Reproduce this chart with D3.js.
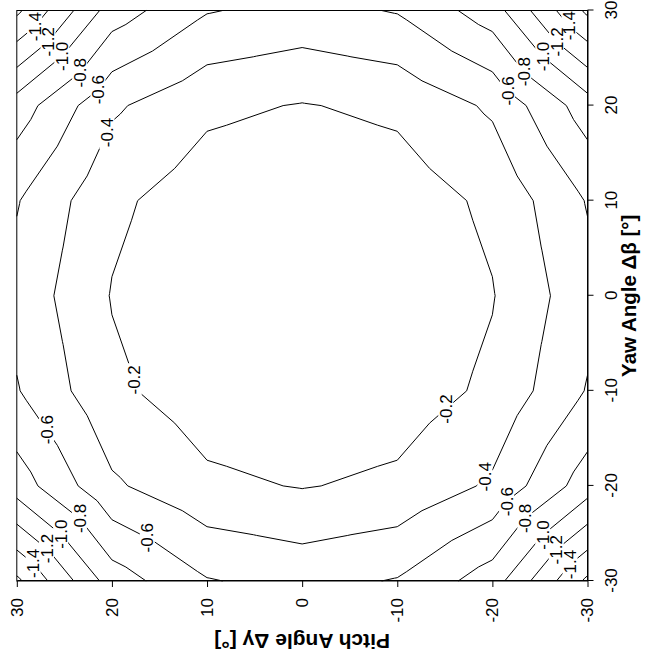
<!DOCTYPE html>
<html><head><meta charset="utf-8">
<script src="https://cdn.jsdelivr.net/npm/d3@7"></script>
<style>html,body{margin:0;padding:0;background:#fff}svg{display:block}</style>
</head><body>
<script>
// ---------------- data ----------------
const yawAngles   = [-30, -20, -10, 0, 10, 20, 30];
const pitchAngles = [-30, -20, -10, 0, 10, 20, 30];
// pressure coefficient, one row per pitch angle (-30 .. 30), columns follow yawAngles
const cpPitchM30 = [-1.64, -0.905, -0.613, -0.534, -0.613, -0.905, -1.64];
const cpPitchM20 = [-0.905, -0.432, -0.24, -0.19, -0.24, -0.432, -0.905];
const cpPitchM10 = [-0.613, -0.24, -0.092, -0.05, -0.092, -0.24, -0.613];
const cpPitch0   = [-0.534, -0.19, -0.05, -0.02, -0.05, -0.19, -0.534];
const cpPitchP10 = [-0.613, -0.24, -0.092, -0.05, -0.092, -0.24, -0.613];
const cpPitchP20 = [-0.905, -0.432, -0.24, -0.19, -0.24, -0.432, -0.905];
const cpPitchP30 = [-1.64, -0.905, -0.613, -0.534, -0.613, -0.905, -1.64];
const cpGrid = [cpPitchM30, cpPitchM20, cpPitchM10, cpPitch0, cpPitchP10, cpPitchP20, cpPitchP30];
const contourLevels = [-1.6, -1.4, -1.2, -1.0, -0.8, -0.6, -0.4, -0.2];
const yawTicks   = [-30, -20, -10, 0, 10, 20, 30];
const pitchTicks = [-30, -20, -10, 0, 10, 20, 30];
const xTitle = "Yaw Angle \u0394\u03b2 [\u00b0]";
const yTitle = "Pitch Angle \u0394\u03b3 [\u00b0]";
// contour labels: level and the spot (yaw, pitch) near which it sits
const labelLevels = [-1.4,-1.2,-1.0,-0.8,-0.6,-0.4, -0.6,-0.8,-1.0,-1.2,-1.4, -0.2,-0.6,-0.8,-1.0,-1.2,-1.4,-0.6, -0.2,-0.4,-0.6,-0.8,-1.0,-1.2,-1.4];
const labelYaw    = [28.2,26.6,25.1,23.3,21.7,17.2, 21.3,23.5,24.8,26.4,28.2, -8.8,-14.1,-23.2,-24.6,-26.0,-27.8,-25.3, -11.8,-18.8,-21.5,-23.2,-24.8,-26.4,-27.8];
const labelPitch  = [28.0,26.6,25.2,23.2,21.5,20.6, -21.4,-23.2,-25.0,-26.5,-27.8, 17.5,26.9,23.2,25.0,26.4,28.0,16.2, -15.0,-19.0,-21.3,-23.2,-25.0,-26.4,-27.6];

// ---------------- layout ----------------
const W = 659, H = 663;
const FONT = "'Liberation Sans', Arial, Helvetica, sans-serif";
const svg = d3.select("body").append("svg").attr("width", W).attr("height", H)
  .style("font-family", FONT);
svg.append("rect").attr("width", W).attr("height", H).attr("fill", "#fff");
// plot is drawn in its natural orientation, then turned a quarter turn
const frame = svg.append("g").attr("transform", `translate(0,${H}) rotate(-90)`);

const x = d3.scaleLinear().domain([-30, 30]).range([82, 652.5]);
const y = d3.scaleLinear().domain([-30, 30]).range([587.5, 16.8]);

// ---------------- contouring (4 triangles per cell, centre = mean) ----------------
function segmentsFor(level) {
  const segs = [];
  const L = level + 1e-9;
  for (let i = 0; i < pitchAngles.length - 1; i++) {
    for (let j = 0; j < yawAngles.length - 1; j++) {
      const A = [yawAngles[j], pitchAngles[i], cpGrid[i][j]];
      const B = [yawAngles[j+1], pitchAngles[i], cpGrid[i][j+1]];
      const C = [yawAngles[j+1], pitchAngles[i+1], cpGrid[i+1][j+1]];
      const D = [yawAngles[j], pitchAngles[i+1], cpGrid[i+1][j]];
      const M = [(A[0]+B[0])/2, (A[1]+D[1])/2, (A[2]+B[2]+C[2]+D[2])/4];
      for (const tri of [[A,B,M],[B,C,M],[C,D,M],[D,A,M]]) {
        const pts = [];
        for (let k = 0; k < 3; k++) {
          const p = tri[k], q = tri[(k+1)%3];
          if ((p[2] - L) * (q[2] - L) < 0) {
            const t = (L - p[2]) / (q[2] - p[2]);
            pts.push([p[0] + t*(q[0]-p[0]), p[1] + t*(q[1]-p[1])]);
          }
        }
        if (pts.length === 2) segs.push(pts);
      }
    }
  }
  return segs;
}
function chain(segs) {
  const key = p => p[0].toFixed(5) + "," + p[1].toFixed(5);
  const adj = new Map();
  segs.forEach((s, idx) => {
    for (const e of [0,1]) {
      const k = key(s[e]);
      if (!adj.has(k)) adj.set(k, []);
      adj.get(k).push(idx);
    }
  });
  const used = new Array(segs.length).fill(false);
  const lines = [];
  function walk(startIdx, startEnd) {
    const line = [];
    let idx = startIdx, end = startEnd;
    line.push(segs[idx][end]);
    while (idx !== -1 && !used[idx]) {
      used[idx] = true;
      const other = segs[idx][1 - end];
      line.push(other);
      const cand = adj.get(key(other)).filter(n => !used[n]);
      if (!cand.length) break;
      const n = cand[0];
      end = key(segs[n][0]) === key(other) ? 0 : 1;
      idx = n;
    }
    return line;
  }
  segs.forEach((s, idx) => {
    if (used[idx]) return;
    for (const e of [0,1]) {
      if (!used[idx] && adj.get(key(s[e])).length === 1) lines.push(walk(idx, e));
    }
  });
  segs.forEach((s, idx) => { if (!used[idx]) lines.push(walk(idx, 0)); });
  return lines;
}
const contourData = contourLevels.map(level => ({ level, lines: chain(segmentsFor(level)) }));

// ---------------- labels ----------------
const defs = svg.append("defs");
const mask = defs.append("mask").attr("id", "lblmask").attr("maskUnits", "userSpaceOnUse")
  .attr("x", -50).attr("y", -50).attr("width", 800).attr("height", 800);
mask.append("rect").attr("x", -50).attr("y", -50).attr("width", 800).attr("height", 800).attr("fill", "#fff");

const lineGen = d3.line().x(d => x(d[0])).y(d => y(d[1]));
const cg = frame.append("g").attr("mask", "url(#lblmask)");
contourData.forEach(c => {
  c.lines.forEach(l => {
    cg.append("path").attr("d", lineGen(l)).attr("fill", "none")
      .attr("stroke", "#000").attr("stroke-width", 1);
  });
});

const fmt = v => v.toFixed(1);
const lg = frame.append("g");
labelLevels.forEach((lev, i) => {
  const tx = x(labelYaw[i]), ty = y(labelPitch[i]);
  const c = contourData.find(d => Math.abs(d.level - lev) < 1e-9);
  let best = null, bd = Infinity;
  c.lines.forEach(l => {
    for (let k = 0; k < l.length - 1; k++) {
      const ax = x(l[k][0]), ay = y(l[k][1]), bx = x(l[k+1][0]), by = y(l[k+1][1]);
      const dx = bx - ax, dy = by - ay;
      const len2 = dx*dx + dy*dy || 1;
      let t = ((tx - ax)*dx + (ty - ay)*dy) / len2;
      t = Math.max(0, Math.min(1, t));
      const px = ax + t*dx, py = ay + t*dy;
      const dd = (px-tx)*(px-tx) + (py-ty)*(py-ty);
      if (dd < bd) { bd = dd; best = [px, py]; }
    }
  });
  const t = lg.append("text").attr("x", best[0]).attr("y", best[1])
    .attr("text-anchor", "middle").attr("dy", "0.36em")
    .attr("font-size", 17).attr("fill", "#000").text(fmt(lev));
  const w = t.node().getComputedTextLength();
  mask.append("rect").attr("x", best[0] - w/2 - 2).attr("y", best[1] - 7.5)
    .attr("width", w + 4).attr("height", 15).attr("fill", "#000");
});

// ---------------- axes & frame ----------------
const xAxis = frame.append("g").attr("transform", `translate(0,${y(-30)})`)
  .call(d3.axisBottom(x).tickValues(yawTicks).tickSize(6).tickSizeOuter(0).tickPadding(11)
    .tickFormat(d => String(d)));
const yAxis = frame.append("g").attr("transform", `translate(${x(-30)},0)`)
  .call(d3.axisLeft(y).tickValues(pitchTicks).tickSize(6).tickSizeOuter(0).tickPadding(11)
    .tickFormat(d => String(d)));
[xAxis, yAxis].forEach(a => {
  a.selectAll("text").attr("font-size", 17).attr("font-family", FONT).attr("fill", "#000");
  a.selectAll("line").attr("stroke", "#000");
  a.select(".domain").attr("stroke", "#000");
});
frame.append("rect").attr("x", x(-30)).attr("y", y(30))
  .attr("width", x(30) - x(-30)).attr("height", y(-30) - y(30))
  .attr("fill", "none").attr("stroke", "#000").attr("stroke-width", 1);

frame.append("text").attr("x", (x(-30) + x(30)) / 2).attr("y", 636)
  .attr("text-anchor", "middle").attr("font-size", 20.5).attr("font-weight", "bold")
  .attr("fill", "#000").text(xTitle);
frame.append("text").attr("transform", `translate(29,${(y(-30) + y(30)) / 2}) rotate(-90)`)
  .attr("text-anchor", "middle").attr("font-size", 21).attr("font-weight", "bold")
  .attr("fill", "#000").text(yTitle);
</script>
</body></html>
